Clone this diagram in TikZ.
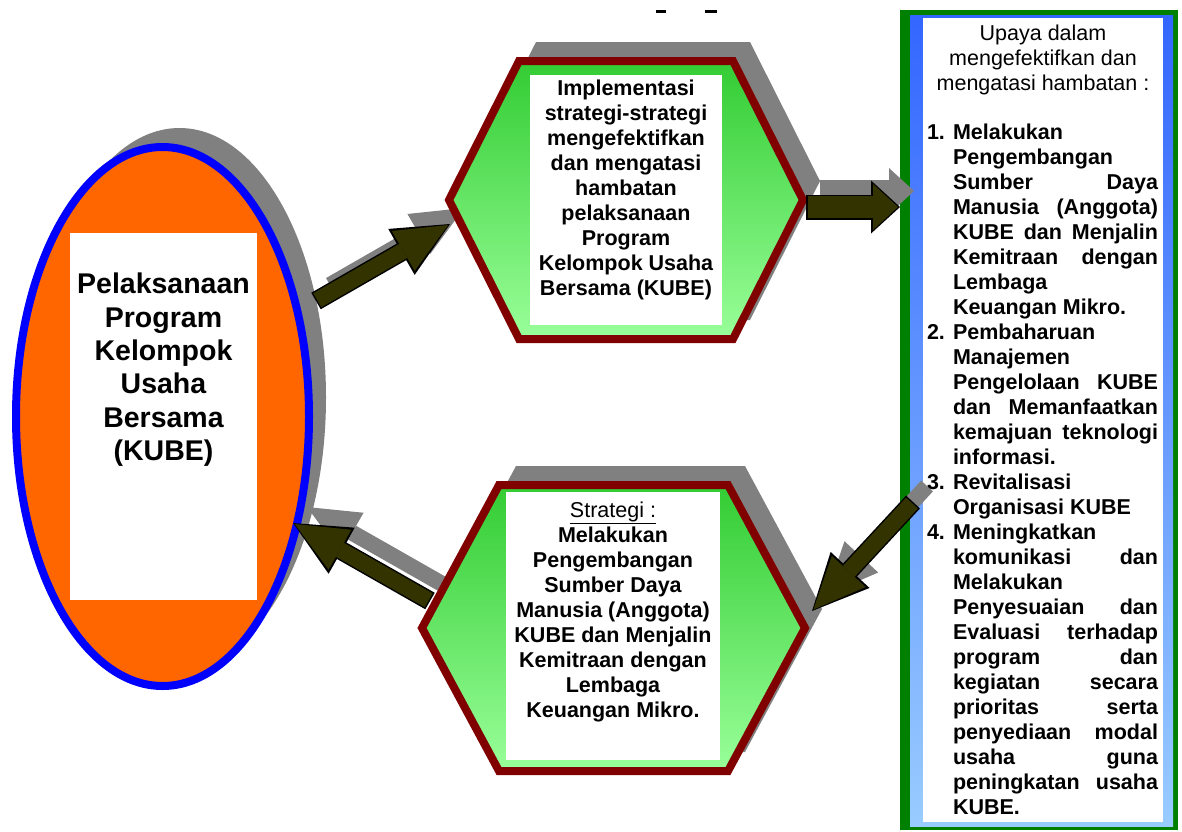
\documentclass[tikz,border=0pt]{standalone}
\usepackage{fontspec}
\setmainfont{Liberation Sans}
\usetikzlibrary{calc}
\usetikzlibrary{positioning}
\usetikzlibrary{shapes.geometric}
\usetikzlibrary{arrows.meta}
\usetikzlibrary{shadows}
\definecolor{shadowgray}{HTML}{808080}
\definecolor{kubeorange}{HTML}{FF6600}
\definecolor{kubeblue}{HTML}{0000FF}
\definecolor{hexred}{HTML}{800000}
\definecolor{hexgreentop}{HTML}{33CC33}
\definecolor{hexgreenbot}{HTML}{99FF99}
\definecolor{boxgreen}{HTML}{008000}
\definecolor{boxbluetop}{HTML}{3366FF}
\definecolor{boxbluebot}{HTML}{99CCFF}
\definecolor{arrowolive}{HTML}{333300}
\tikzstyle{nodeshadow} = [drop shadow={shadow xshift=17pt, shadow yshift=19pt, opacity=1, fill=shadowgray}]
\tikzstyle{kubenode} = [draw=kubeblue, line width=8pt, fill=kubeorange, ellipse, minimum width=293pt, minimum height=539pt, inner sep=0pt, nodeshadow]
\tikzstyle{hexshape} = [draw=hexred, line width=8pt, top color=hexgreentop, bottom color=hexgreenbot, nodeshadow]
\tikzstyle{framenode} = [rectangle, inner sep=0pt]
\tikzstyle{whitebox} = [fill=white, rectangle, inner sep=0pt]
\tikzstyle{kubetext} = [inner sep=0pt, align=center, font=\fontsize{28.5}{33.4}\selectfont\bfseries]
\tikzstyle{hextext} = [inner sep=0pt, align=center, font=\fontsize{21.5}{25}\selectfont\bfseries]
\tikzstyle{headtext} = [inner sep=0pt, align=center, font=\fontsize{21.5}{25}\selectfont]
\tikzstyle{listtext} = [inner sep=0pt, align=left, font=\fontsize{21.5}{25}\selectfont\bfseries]
\tikzstyle{diagarrow} = [line width=16pt, -{Triangle[length=52pt, width=46pt, line width=0pt]}]
\tikzstyle{diagrim} = [black, line width=19pt, -{Triangle[length=56pt, width=53pt, line width=0pt]}]
\tikzstyle{stubarrow} = [line width=22pt, -{Triangle[length=25pt, width=46pt, line width=0pt]}]
\tikzstyle{stubrim} = [black, line width=25pt, -{Triangle[length=29pt, width=53pt, line width=0pt]}]
\tikzstyle{arrowshade} = [shadowgray, transform canvas={xshift=14pt, yshift=16pt}]
\tikzstyle{arrowbody} = [arrowolive, shorten >=2pt, shorten <=1.5pt]
% one line of the numbered list, left or stretched
\newcommand{\numline}[2]{\makebox[26pt][l]{#1}\makebox[205pt][l]{#2}}
\newcommand{\justline}[2]{\makebox[26pt][l]{#1}\makebox[205pt][s]{#2}}

\begin{document}
\begin{tikzpicture}[x=1pt, y=-1pt]
\useasboundingbox (0,0) rectangle (1182,831);
\fill (656,9.5) rectangle (666,12.5);
\fill (705,9.5) rectangle (717,12.5);

% right frame
\node[framenode, fill=boxgreen, minimum width=278pt, minimum height=820pt] (upayaframe) at (1039,420) {};
\node[framenode, top color=boxbluetop, bottom color=boxbluebot, minimum width=263pt, minimum height=811pt] (upayashade) at (1041.5,420.5) {};
\node[whitebox, minimum width=240pt, minimum height=804pt] (upayabox) at (1043,420) {};

% arrow ends
\coordinate (kubeout) at (316,301);
\coordinate (implin) at (450,224);
\coordinate (implout) at (806,207);
\coordinate (upayain) at (900,207);
\coordinate (upayaout) at (913,502);
\coordinate (stratin) at (812,611);
\coordinate (stratout) at (430,601);
\coordinate (kubein) at (293,523);
\draw[arrowshade, diagarrow] (kubeout) -- (implin);
\draw[arrowshade, stubarrow] (implout) -- (upayain);
\draw[arrowshade, diagarrow] (upayaout) -- (stratin);
\draw[arrowshade, diagarrow] (stratout) -- (kubein);

\node[headtext, below=7pt of upayabox.north] (upayahead) {Upaya dalam\\mengefektifkan dan\\mengatasi hambatan :};
\node[listtext, below right=106pt and 4pt of upayabox.north west] (upayalist) {%
\numline{1.}{Melakukan}\\
\numline{}{Pengembangan}\\
\justline{}{Sumber Daya}\\
\justline{}{Manusia (Anggota)}\\
\justline{}{KUBE dan Menjalin}\\
\justline{}{Kemitraan dengan}\\
\numline{}{Lembaga}\\
\numline{}{Keuangan Mikro.}\\
\numline{2.}{Pembaharuan}\\
\numline{}{Manajemen}\\
\justline{}{Pengelolaan KUBE}\\
\justline{}{dan Memanfaatkan}\\
\justline{}{kemajuan teknologi}\\
\numline{}{informasi.}\\
\numline{3.}{Revitalisasi}\\
\numline{}{Organisasi KUBE}\\
\numline{4.}{Meningkatkan}\\
\justline{}{komunikasi dan}\\
\numline{}{Melakukan}\\
\justline{}{Penyesuaian dan}\\
\justline{}{Evaluasi terhadap}\\
\justline{}{program dan}\\
\justline{}{kegiatan secara}\\
\justline{}{prioritas serta}\\
\justline{}{penyediaan modal}\\
\justline{}{usaha guna}\\
\justline{}{peningkatan usaha}\\
\numline{}{KUBE.}};

% KUBE ellipse
\node[kubenode] (kube) at (162.5,416.5) {};
\node[whitebox, minimum width=187pt, minimum height=367pt] (kubebox) at (163.5,416.5) {};
\node[kubetext, below=40pt of kubebox.north] (kubelabel) {Pelaksanaan\\Program\\Kelompok\\Usaha\\Bersama\\(KUBE)};

% hexagons
\coordinate (implc) at (626,200);
\draw[hexshape] ($(implc)+(-177,0)$) -- ($(implc)+(-107,-139)$) -- ($(implc)+(107,-139)$) -- ($(implc)+(177,0)$) -- ($(implc)+(107,139)$) -- ($(implc)+(-107,139)$) -- cycle;
\node[whitebox, minimum width=192pt, minimum height=250pt] (implbox) at (implc) {};
\node[hextext, below=5pt of implbox.north] (impllabel) {Implementasi\\strategi-strategi\\mengefektifkan\\dan mengatasi\\hambatan\\pelaksanaan\\Program\\Kelompok Usaha\\Bersama (KUBE)};

\coordinate (stratc) at (613.5,628);
\draw[hexshape] ($(stratc)+(-191.5,0)$) -- ($(stratc)+(-114.5,-143)$) -- ($(stratc)+(114.5,-143)$) -- ($(stratc)+(191.5,0)$) -- ($(stratc)+(114.5,143)$) -- ($(stratc)+(-114.5,143)$) -- cycle;
\node[whitebox, minimum width=214pt, minimum height=268pt] (stratbox) at (613,626) {};
\node[hextext, below=10pt of stratbox.north] (stratlabel) {{\mdseries\underline{Strategi :}}\\Melakukan\\Pengembangan\\Sumber Daya\\Manusia (Anggota)\\KUBE dan Menjalin\\Kemitraan dengan\\Lembaga\\Keuangan Mikro.};

% arrows
\draw[diagrim] (kubeout) -- (implin);
\draw[arrowbody, diagarrow] (kubeout) -- (implin);
\draw[stubrim] (implout) -- (upayain);
\draw[arrowbody, stubarrow] (implout) -- (upayain);
\draw[diagrim] (upayaout) -- (stratin);
\draw[arrowbody, diagarrow] (upayaout) -- (stratin);
\draw[diagrim] (stratout) -- (kubein);
\draw[arrowbody, diagarrow] (stratout) -- (kubein);
\end{tikzpicture}
\end{document}
